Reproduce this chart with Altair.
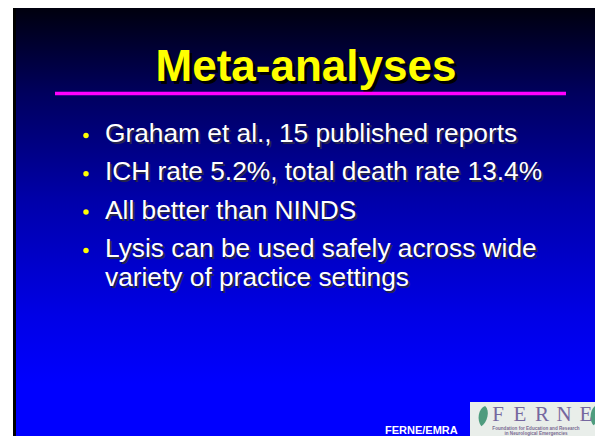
import altair as alt
import pandas as pd

# ---------------- content ----------------
TITLE = "Meta-analyses"
BULLETS = [
    "Graham et al., 15 published reports",
    "ICH rate 5.2%, total death rate 13.4%",
    "All better than NINDS",
    "Lysis can be used safely across wide\nvariety of practice settings",
]
FOOTER = "FERNE/EMRA"
LOGO_WORD = list("FERNE")
LOGO_TAGLINE = ["Foundation for Education and Research", "in Neurological Emergencies"]

# ---------------- layout (page pixels) ----------------
PAGE_W, PAGE_H, MARGIN = 603, 444, 8
W, H = PAGE_W - 2 * MARGIN, PAGE_H - 2 * MARGIN
X_MAX, Y_MAX = MARGIN + W, MARGIN + H

XS = alt.Scale(domain=[MARGIN, X_MAX], nice=False, zero=False)
YS = alt.Scale(domain=[MARGIN, Y_MAX], nice=False, zero=False, reverse=True)


def X(f):
    return alt.X(f, type="quantitative", scale=XS, axis=None)


def Y(f):
    return alt.Y(f, type="quantitative", scale=YS, axis=None)


def box(x0, x1, y0, y1):
    return pd.DataFrame({"x": [x0], "x2": [x1], "y": [y0], "y2": [y1]})


def rect_layer(df, **mark):
    return alt.Chart(df).mark_rect(**mark).encode(
        x=X("x"), x2="x2", y=Y("y"), y2="y2"
    )


# slide frame + gradient background
frame = rect_layer(box(13, X_MAX, MARGIN, Y_MAX), color="black")
bg = rect_layer(
    box(16, X_MAX, MARGIN, Y_MAX),
    fill=alt.Gradient(
        gradient="linear",
        stops=[
            alt.GradientStop(color="#00000e", offset=0),
            alt.GradientStop(color="#00005e", offset=0.2),
            alt.GradientStop(color="#0000aa", offset=0.45),
            alt.GradientStop(color="#0000e6", offset=0.72),
            alt.GradientStop(color="#0000ff", offset=0.88),
            alt.GradientStop(color="#0000ff", offset=1),
        ],
        x1=0, x2=0, y1=0, y2=1,
    ),
    stroke=None,
)

# title
title_df = pd.DataFrame({"text": [TITLE], "x": [306], "y": [81]})
title_base = dict(font="Liberation Sans", fontWeight="bold", fontSize=44,
                  align="center", baseline="alphabetic")
title_shadow = alt.Chart(title_df).mark_text(color="#000000", dx=3, dy=3, **title_base).encode(
    x=X("x"), y=Y("y"), text="text:N")
title = alt.Chart(title_df).mark_text(color="#ffff00", **title_base).encode(
    x=X("x"), y=Y("y"), text="text:N")

# magenta rule under title
rule_df = pd.DataFrame({"x": [55], "x2": [566], "y": [93.5]})
rule = alt.Chart(rule_df).mark_rule(color="#ff00ff", strokeWidth=3.5).encode(
    x=X("x"), x2="x2", y=Y("y"))

# bullets
FIRST_BASE, STEP = 142, 38.3
bul_df = pd.DataFrame({
    "text": BULLETS,
    "x": [105] * len(BULLETS),
    "y": [FIRST_BASE + i * STEP for i in range(len(BULLETS))],
})
bul_df["dot_x"] = 86
bul_df["dot_y"] = bul_df["y"] - 6.5
bul_base = dict(font="Liberation Sans", fontSize=26.3, align="left",
                baseline="alphabetic", lineBreak="\n", lineHeight=29.5)
bul_shadow = alt.Chart(bul_df).mark_text(color="#26264a", dx=2, dy=2, **bul_base).encode(
    x=X("x"), y=Y("y"), text="text:N")
bul_text = alt.Chart(bul_df).mark_text(color="#ffffff", **bul_base).encode(
    x=X("x"), y=Y("y"), text="text:N")
dots = alt.Chart(bul_df).mark_circle(color="#ffff00", size=30, opacity=1).encode(
    x=X("dot_x"), y=Y("dot_y"))

# footer text (kept inside the visible page)
foot_df = pd.DataFrame({"text": [FOOTER], "x": [385], "y": [434]})
footer = alt.Chart(foot_df).mark_text(
    font="Liberation Sans", fontWeight="bold", fontSize=11, color="#ffffff",
    align="left", baseline="alphabetic").encode(x=X("x"), y=Y("y"), text="text:N")

# logo
logo_bg = rect_layer(box(470, X_MAX, 402, Y_MAX), color="#e9eeea")
letters_df = pd.DataFrame({
    "text": LOGO_WORD,
    "x": [498 + i * 22 for i in range(len(LOGO_WORD))],
    "y": [421] * len(LOGO_WORD),
})
letters = alt.Chart(letters_df).mark_text(
    font="Liberation Serif", fontSize=21, color="#75679f", align="center",
    baseline="alphabetic").encode(x=X("x"), y=Y("y"), text="text:N")
tag_df = pd.DataFrame({"text": LOGO_TAGLINE, "x": [536, 536], "y": [429.5, 434.5]})
tagline = alt.Chart(tag_df).mark_text(
    font="Liberation Sans", fontSize=4.6, fontWeight="bold", color="#7a6c92",
    align="center", baseline="alphabetic").encode(x=X("x"), y=Y("y"), text="text:N")
LEAF = "M0,-1 C0.6,-0.65 0.55,0.55 0.05,1 C-0.55,0.55 -0.6,-0.65 0,-1 Z"
leaf_df = pd.DataFrame({"x": [483, 595], "y": [416, 415]})
leaves = alt.Chart(leaf_df).mark_point(
    shape=LEAF, filled=True, size=420, color="#4e9c7e", opacity=1, angle=12
).encode(x=X("x"), y=Y("y"))

chart = alt.layer(
    frame, bg, title_shadow, title, rule, bul_shadow, bul_text, dots,
    footer, logo_bg, leaves, letters, tagline,
).properties(
    width=W, height=H, padding=0, autosize=alt.AutoSizeParams(type="none"),
    background="#ffffff",
).configure_view(stroke=None)

chart.save("out.html", embed_options={"renderer": "svg", "actions": False})
